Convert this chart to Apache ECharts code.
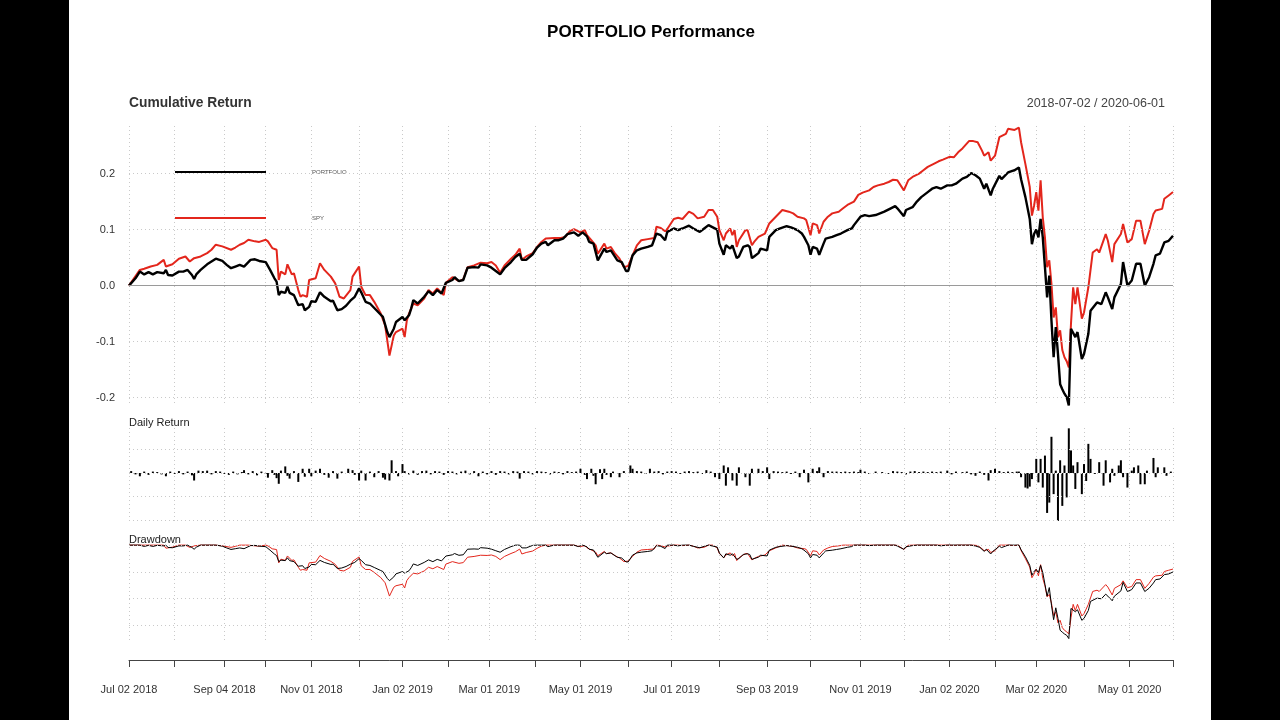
<!DOCTYPE html>
<html>
<head>
<meta charset="utf-8">
<script src="https://cdn.jsdelivr.net/npm/echarts@6/dist/echarts.min.js"></script>
<style>
html,body{margin:0;padding:0;background:#fff;}
#chart{width:1280px;height:720px;}
</style>
</head>
<body>
<div id="chart"></div>
<script>
// ---- DATA ----
// trading-day index 0..481 (Jul 02 2018 .. Jun 01 2020)
const tradingDays = Array.from({length: 482}, (_, i) => i);
const tickIdx = [0,21,44,63,84,106,126,147,166,187,208,230,250,272,294,314,337,357,378,399,418,440,461,481];
const tickLabels = ['Jul 02 2018','','Sep 04 2018','','Nov 01 2018','','Jan 02 2019','','Mar 01 2019','','May 01 2019','',
  'Jul 01 2019','','Sep 03 2019','','Nov 01 2019','','Jan 02 2020','','Mar 02 2020','','May 01 2020',''];
const seriesNames = ['PORTFOLIO','SPY'];
const dateRange = '2018-07-02 / 2020-06-01';

// cumulative return [day index, value]
const portfolioCum = [[0,0],[3,0.013],[5,0.025],[7,0.020],[9,0.024],[11,0.020],[13,0.024],[16,0.022],[17,0.028],[18,0.019],[20,0.018],[23,0.025],[25,0.025],[27,0.028],[29,0.019],[30,0.012],[31,0.020],[33,0.028],[36,0.038],[38,0.043],[40,0.048],[43,0.044],[45,0.037],[47,0.031],[49,0.034],[51,0.037],[53,0.034],[56,0.046],[58,0.047],[60,0.044],[63,0.042],[65,0.028],[67,0.013],[68,0.007],[69,-0.017],[70,-0.011],[72,-0.013],[73,-0.002],[74,-0.013],[76,-0.017],[78,-0.035],[80,-0.033],[81,-0.044],[83,-0.038],[84,-0.028],[86,-0.029],[88,-0.012],[90,-0.020],[93,-0.028],[94,-0.027],[96,-0.044],[98,-0.042],[100,-0.036],[102,-0.027],[104,-0.020],[106,-0.005],[107,-0.012],[109,-0.029],[111,-0.032],[113,-0.040],[116,-0.052],[117,-0.056],[119,-0.083],[120,-0.092],[122,-0.077],[123,-0.065],[126,-0.056],[127,-0.062],[129,-0.053],[130,-0.041],[131,-0.026],[133,-0.032],[136,-0.020],[138,-0.010],[140,-0.017],[142,-0.008],[144,-0.014],[146,0.005],[149,0.010],[150,0.015],[152,0.008],[154,0.010],[156,0.032],[159,0.033],[161,0.032],[162,0.038],[165,0.036],[167,0.032],[169,0.026],[171,0.020],[173,0.031],[176,0.042],[178,0.051],[180,0.057],[181,0.046],[183,0.046],[186,0.056],[188,0.068],[190,0.075],[192,0.078],[193,0.072],[196,0.081],[198,0.081],[200,0.084],[202,0.092],[205,0.095],[207,0.089],[209,0.095],[211,0.088],[212,0.078],[214,0.075],[216,0.045],[219,0.066],[220,0.060],[222,0.063],[225,0.045],[227,0.042],[229,0.026],[230,0.026],[232,0.054],[234,0.063],[236,0.066],[239,0.069],[241,0.072],[243,0.093],[245,0.090],[247,0.081],[248,0.096],[251,0.102],[253,0.099],[255,0.102],[258,0.107],[260,0.102],[263,0.096],[265,0.102],[267,0.108],[269,0.104],[271,0.100],[272,0.075],[274,0.055],[275,0.072],[277,0.066],[278,0.072],[280,0.049],[281,0.052],[283,0.069],[285,0.072],[286,0.069],[287,0.049],[288,0.052],[290,0.058],[291,0.066],[294,0.063],[295,0.087],[298,0.099],[300,0.102],[303,0.106],[305,0.104],[308,0.099],[310,0.093],[311,0.087],[313,0.072],[314,0.055],[315,0.069],[317,0.066],[318,0.055],[320,0.075],[321,0.084],[324,0.087],[326,0.090],[328,0.093],[331,0.099],[333,0.102],[334,0.108],[337,0.123],[339,0.126],[341,0.124],[344,0.126],[346,0.129],[348,0.132],[351,0.138],[353,0.142],[354,0.138],[357,0.124],[358,0.135],[361,0.140],[363,0.150],[365,0.158],[368,0.167],[370,0.173],[372,0.176],[374,0.173],[377,0.179],[379,0.179],[381,0.182],[384,0.191],[386,0.194],[388,0.201],[390,0.197],[392,0.191],[394,0.173],[395,0.182],[397,0.161],[398,0.173],[401,0.196],[402,0.190],[405,0.202],[407,0.205],[408,0.206],[410,0.211],[411,0.190],[413,0.158],[415,0.119],[416,0.074],[417,0.092],[418,0.100],[419,0.086],[420,0.119],[421,0.086],[422,0.033],[423,-0.021],[424,0.018],[425,-0.062],[426,-0.128],[427,-0.074],[428,-0.122],[429,-0.176],[430,-0.185],[431,-0.193],[432,-0.199],[433,-0.214],[434,-0.077],[436,-0.092],[437,-0.083],[439,-0.131],[440,-0.122],[442,-0.086],[443,-0.045],[446,-0.030],[448,-0.033],[450,-0.012],[451,-0.021],[453,-0.042],[454,-0.021],[457,0.003],[458,0.042],[460,0.000],[462,0.009],[464,0.039],[466,0.039],[468,0.000],[470,0.015],[472,0.039],[473,0.054],[475,0.057],[477,0.077],[479,0.080],[481,0.089]];

const spyCum = [[0,0],[5,0.028],[7,0.030],[10,0.034],[13,0.037],[16,0.046],[17,0.034],[20,0.038],[23,0.048],[26,0.052],[28,0.043],[30,0.049],[33,0.052],[36,0.058],[38,0.064],[40,0.073],[43,0.070],[47,0.064],[49,0.068],[51,0.073],[53,0.076],[55,0.082],[58,0.079],[60,0.078],[63,0.082],[64,0.079],[66,0.067],[68,0.064],[69,0.010],[70,0.025],[72,0.020],[73,0.038],[75,0.020],[76,0.022],[78,-0.008],[79,-0.020],[80,-0.017],[82,-0.020],[83,0.010],[86,0.013],[88,0.040],[90,0.028],[93,0.016],[95,0.004],[97,-0.020],[99,-0.023],[102,-0.008],[103,0.016],[106,0.034],[107,-0.002],[109,-0.017],[111,-0.017],[113,-0.029],[116,-0.050],[118,-0.071],[120,-0.125],[122,-0.089],[123,-0.083],[126,-0.077],[127,-0.092],[128,-0.062],[129,-0.050],[131,-0.032],[133,-0.035],[136,-0.023],[138,-0.008],[140,-0.014],[142,-0.005],[145,-0.017],[146,0.005],[149,0.015],[152,0.008],[154,0.011],[156,0.033],[159,0.036],[162,0.041],[165,0.040],[167,0.042],[169,0.036],[171,0.023],[173,0.036],[176,0.048],[178,0.055],[180,0.066],[181,0.046],[183,0.052],[186,0.058],[188,0.069],[190,0.078],[192,0.084],[196,0.085],[199,0.085],[201,0.087],[203,0.097],[205,0.101],[208,0.095],[210,0.099],[211,0.090],[213,0.081],[215,0.072],[216,0.057],[219,0.075],[220,0.066],[222,0.069],[224,0.057],[226,0.048],[228,0.033],[230,0.035],[232,0.054],[234,0.072],[236,0.081],[239,0.083],[242,0.085],[243,0.105],[245,0.103],[247,0.097],[248,0.101],[251,0.119],[253,0.121],[255,0.119],[258,0.132],[260,0.128],[262,0.120],[265,0.123],[267,0.135],[269,0.135],[271,0.123],[272,0.099],[274,0.081],[275,0.093],[277,0.102],[278,0.090],[279,0.099],[280,0.069],[281,0.081],[284,0.099],[285,0.099],[287,0.072],[288,0.078],[290,0.087],[293,0.093],[295,0.111],[298,0.123],[301,0.135],[304,0.132],[306,0.129],[308,0.123],[311,0.120],[312,0.117],[314,0.090],[315,0.111],[317,0.108],[318,0.093],[320,0.114],[322,0.123],[324,0.129],[327,0.132],[329,0.138],[331,0.144],[334,0.150],[336,0.162],[338,0.166],[341,0.170],[343,0.176],[345,0.179],[348,0.182],[350,0.185],[352,0.189],[354,0.188],[357,0.170],[359,0.188],[361,0.194],[364,0.200],[366,0.206],[368,0.212],[371,0.218],[373,0.222],[375,0.225],[378,0.230],[380,0.229],[382,0.238],[384,0.245],[387,0.258],[389,0.258],[391,0.256],[393,0.241],[394,0.232],[396,0.238],[397,0.223],[399,0.232],[401,0.265],[404,0.271],[405,0.280],[408,0.278],[410,0.282],[411,0.256],[413,0.217],[415,0.176],[416,0.125],[417,0.143],[418,0.167],[419,0.134],[420,0.188],[421,0.122],[422,0.086],[423,0.033],[424,0.045],[425,0.003],[426,-0.057],[427,-0.039],[428,-0.092],[429,-0.080],[430,-0.115],[431,-0.128],[432,-0.135],[433,-0.146],[434,-0.068],[435,-0.003],[436,-0.033],[437,-0.003],[439,-0.059],[440,-0.048],[442,-0.003],[444,0.059],[446,0.065],[447,0.059],[450,0.092],[451,0.080],[453,0.042],[454,0.074],[457,0.092],[458,0.110],[460,0.077],[462,0.083],[464,0.116],[466,0.116],[468,0.074],[470,0.098],[472,0.128],[473,0.134],[476,0.137],[477,0.155],[479,0.161],[481,0.167]];

// daily return of PORTFOLIO [day index, value]
const portfolioDaily = [[1,0.004],[3,-0.003],[5,-0.007],[7,0.003],[9,-0.004],[11,0.003],[13,0.002],[15,-0.003],[17,-0.007],[19,0.003],[21,-0.002],[23,0.004],[25,-0.003],[27,0.003],[29,-0.005],[30,-0.016],[32,0.005],[34,0.004],[36,0.005],[38,-0.003],[40,0.004],[42,0.003],[44,-0.002],[46,-0.004],[48,0.003],[50,-0.003],[52,0.002],[53,0.006],[55,-0.003],[57,0.004],[59,-0.005],[61,0.003],[63,-0.002],[64,-0.010],[66,0.006],[67,-0.004],[68,-0.011],[69,-0.023],[70,0.005],[72,0.014],[73,-0.006],[74,-0.012],[76,0.004],[78,-0.019],[80,0.009],[81,-0.008],[83,0.009],[84,-0.007],[86,0.005],[88,0.009],[90,-0.004],[92,-0.010],[94,0.004],[96,-0.012],[98,0.003],[101,0.009],[103,0.006],[104,-0.004],[106,-0.016],[107,0.005],[109,-0.016],[111,0.003],[113,-0.009],[115,0.004],[117,-0.010],[118,-0.014],[120,-0.016],[121,0.027],[123,0.004],[124,-0.007],[126,0.019],[127,0.004],[129,-0.003],[131,0.005],[133,-0.004],[135,0.004],[137,0.005],[139,-0.003],[141,0.004],[143,0.003],[145,-0.004],[147,0.004],[149,0.003],[151,-0.003],[153,0.003],[155,0.005],[157,-0.003],[159,0.004],[161,-0.007],[163,0.003],[165,-0.003],[167,0.004],[169,-0.004],[171,0.004],[173,0.003],[175,-0.003],[177,0.004],[179,0.003],[180,-0.012],[182,0.004],[184,0.003],[186,-0.003],[188,0.004],[190,0.003],[192,0.002],[194,-0.003],[196,0.003],[198,0.002],[200,-0.003],[202,0.004],[204,0.002],[206,0.003],[208,0.009],[210,-0.004],[211,-0.013],[213,0.009],[214,-0.006],[215,-0.024],[217,0.008],[218,-0.013],[219,0.009],[220,-0.004],[222,-0.009],[223,0.003],[226,-0.009],[228,0.004],[231,0.016],[232,0.009],[234,0.004],[236,0.003],[238,-0.002],[240,0.009],[242,0.003],[244,0.004],[246,-0.003],[248,0.003],[250,0.004],[252,0.003],[254,-0.002],[256,0.003],[258,0.004],[260,0.002],[262,0.003],[264,-0.002],[266,0.006],[268,0.003],[270,-0.009],[272,-0.013],[274,0.016],[275,-0.027],[276,0.012],[278,-0.016],[280,-0.027],[281,0.012],[284,-0.009],[286,-0.027],[287,0.009],[290,0.009],[292,0.004],[294,0.012],[295,-0.013],[297,0.004],[299,0.003],[301,0.002],[303,0.003],[305,-0.002],[307,0.003],[309,-0.009],[311,0.007],[313,-0.020],[315,0.009],[317,0.004],[318,0.012],[320,-0.009],[322,0.004],[324,0.003],[326,0.003],[328,0.002],[330,0.003],[332,0.002],[334,0.003],[336,0.002],[337,0.007],[339,0.003],[341,-0.002],[344,0.003],[347,0.002],[350,-0.002],[352,0.004],[354,0.003],[356,0.002],[358,-0.003],[360,0.003],[362,0.004],[364,0.002],[366,0.003],[368,0.002],[370,0.003],[372,0.002],[374,0.003],[377,0.005],[379,-0.003],[381,0.003],[384,0.002],[386,0.003],[388,-0.003],[390,-0.006],[392,0.003],[394,-0.004],[396,-0.016],[397,0.006],[399,0.009],[401,0.004],[403,0.002],[405,0.003],[407,0.002],[409,0.003],[410,0.003],[411,-0.009],[413,-0.031],[414,-0.033],[415,-0.029],[416,-0.013],[418,0.030],[419,-0.020],[420,0.030],[421,-0.031],[422,0.037],[423,-0.085],[424,-0.063],[425,0.077],[426,-0.045],[427,0.005],[428,-0.102],[429,0.027],[430,-0.070],[431,0.016],[432,-0.052],[433,0.095],[434,0.048],[435,0.016],[436,-0.034],[437,0.023],[439,-0.045],[440,0.019],[441,-0.017],[442,0.062],[443,0.030],[445,-0.002],[447,0.023],[449,-0.027],[450,0.027],[452,-0.020],[453,0.009],[454,-0.006],[456,0.016],[457,0.027],[458,-0.009],[460,-0.031],[462,0.005],[463,0.012],[465,0.016],[466,-0.024],[468,-0.024],[469,0.005],[472,0.032],[473,-0.009],[474,0.012],[477,0.012],[478,-0.006],[480,0.003]];

// axis gridline values
const cumGrid = [0.2, 0.1, -0.1, -0.2];
const dailyGrid = [0.05, 0, -0.05, -0.1];
const ddGrid = [0, -0.1, -0.2, -0.3];

// drawdown derived from cumulative return (wealth / running peak - 1)
function toDrawdown(cum) {
  let peak = 1;
  return cum.map(([i, c]) => { const w = 1 + c; if (w > peak) peak = w; return [i, w / peak - 1]; });
}
const portfolioDD = toDrawdown(portfolioCum);
const spyDD = toDrawdown(spyCum);

// ---- CHART ----
const FONT = 'Liberation Sans, Arial, sans-serif';
const BLACK = '#000000';
const RED = '#e3261c';
const GRIDC = '#c9c9c9';
const tickSet = new Set(tickIdx);
const labelMap = {};
tickIdx.forEach((d, k) => { labelMap[d] = tickLabels[k]; });

function xAx(gi, showAxis) {
  return {
    type: 'category', gridIndex: gi, data: tradingDays, boundaryGap: false,
    position: 'bottom',
    offset: showAxis ? 19 : 0,
    axisLine: { show: showAxis, onZero: false, lineStyle: { color: '#444', width: 1 } },
    axisTick: { show: showAxis, length: 7, interval: (i) => tickSet.has(i), lineStyle: { color: '#444' } },
    axisLabel: { show: showAxis, interval: (i) => labelMap[i] !== undefined && labelMap[i] !== '',
      formatter: (v, i) => labelMap[i] || '', margin: 24, fontSize: 11, color: '#333', fontFamily: FONT },
    splitLine: { show: true, interval: (i) => tickSet.has(i), lineStyle: { color: GRIDC, type: [1, 3], width: 1 } }
  };
}
function gridLines(gi, values, zeroSolid) {
  return {
    type: 'line', xAxisIndex: gi, yAxisIndex: gi, data: [[0, 0], [481, 0]], z: 1, silent: true,
    showSymbol: false, lineStyle: { opacity: 0 },
    markLine: {
      silent: true, symbol: ['none', 'none'], label: { show: false }, animation: false,
      data: values.map(v => ({ yAxis: v, lineStyle: (zeroSolid && v === 0)
        ? { color: '#9a9a9a', type: 'solid', width: 1 }
        : { color: GRIDC, type: [1, 3], width: 1 } }))
    }
  };
}

const chart = echarts.init(document.getElementById('chart'), null, { renderer: 'canvas' });
chart.setOption({
  backgroundColor: '#ffffff',
  animation: false,
  textStyle: { fontFamily: FONT },
  title: [
    { text: 'PORTFOLIO Performance', left: 651, top: 24, textAlign: 'center', padding: 0,
      textStyle: { fontSize: 17, fontWeight: 'bold', color: '#000', fontFamily: FONT } },
    { text: 'Cumulative Return', left: 129, top: 96, padding: 0,
      textStyle: { fontSize: 13.8, fontWeight: 'bold', color: '#333', fontFamily: FONT } },
    { text: dateRange, right: 115, top: 97, padding: 0,
      textStyle: { fontSize: 12.5, fontWeight: 'normal', color: '#444', fontFamily: FONT } },
    { text: 'Daily Return', left: 129, top: 417, padding: 0,
      textStyle: { fontSize: 11, fontWeight: 'normal', color: '#222', fontFamily: FONT } },
    { text: 'Drawdown', left: 129, top: 534, padding: 0,
      textStyle: { fontSize: 11, fontWeight: 'normal', color: '#222', fontFamily: FONT } }
  ],
  legend: {
    data: seriesNames, orient: 'vertical', left: 175, top: 168, padding: 0, itemWidth: 91, itemHeight: 2, itemGap: 38,
    icon: 'rect', selectedMode: false,
    textStyle: { fontSize: 6, color: '#555', lineHeight: 8, padding: [0, 0, 0, 41], fontFamily: FONT }
  },
  grid: [
    { left: 129, right: 107, top: 126, height: 280 },
    { left: 129, right: 107, top: 428, height: 93.4 },
    { left: 129, right: 107, top: 543, height: 98 }
  ],
  xAxis: [xAx(0, false), xAx(1, false), xAx(2, true)],
  yAxis: [
    { type: 'value', gridIndex: 0, min: -0.215, max: 0.285, splitLine: { show: false },
      axisLine: { show: false }, axisTick: { show: false },
      axisLabel: { margin: 14, fontSize: 11, color: '#333', fontFamily: FONT,
        formatter: (v) => Math.abs(v * 10 - Math.round(v * 10)) < 1e-6 ? (Math.round(v * 10) / 10).toFixed(1) : '' } },
    { type: 'value', gridIndex: 1, min: -0.103, max: 0.0957, splitLine: { show: false },
      axisLine: { show: false }, axisTick: { show: false }, axisLabel: { show: false } },
    { type: 'value', gridIndex: 2, min: -0.36, max: 0.008, splitLine: { show: false },
      axisLine: { show: false }, axisTick: { show: false }, axisLabel: { show: false } }
  ],
  graphic: [
    { type: 'rect', left: 0, top: 0, shape: { width: 69, height: 720 }, style: { fill: '#000' }, z: 100 },
    { type: 'rect', left: 1211, top: 0, shape: { width: 69, height: 720 }, style: { fill: '#000' }, z: 100 }
  ],
  series: [
    gridLines(0, cumGrid.concat([0]), true),
    gridLines(1, dailyGrid, false),
    gridLines(2, ddGrid, false),
    { name: 'PORTFOLIO', type: 'line', xAxisIndex: 0, yAxisIndex: 0, data: portfolioCum, showSymbol: false,
      color: BLACK, lineStyle: { color: BLACK, width: 2.4 }, z: 4, clip: false },
    { name: 'SPY', type: 'line', xAxisIndex: 0, yAxisIndex: 0, data: spyCum, showSymbol: false,
      color: RED, lineStyle: { color: RED, width: 2 }, z: 3, clip: false },
    { name: 'PORTFOLIO daily', type: 'bar', xAxisIndex: 1, yAxisIndex: 1, data: portfolioDaily,
      barWidth: 2, itemStyle: { color: BLACK }, z: 3 },
    { name: 'PORTFOLIO', type: 'line', xAxisIndex: 2, yAxisIndex: 2, data: portfolioDD, showSymbol: false,
      color: BLACK, lineStyle: { color: BLACK, width: 1 }, z: 4, clip: false },
    { name: 'SPY', type: 'line', xAxisIndex: 2, yAxisIndex: 2, data: spyDD, showSymbol: false,
      color: RED, lineStyle: { color: RED, width: 1 }, z: 3, clip: false }
  ]
});
</script>
</body>
</html>
